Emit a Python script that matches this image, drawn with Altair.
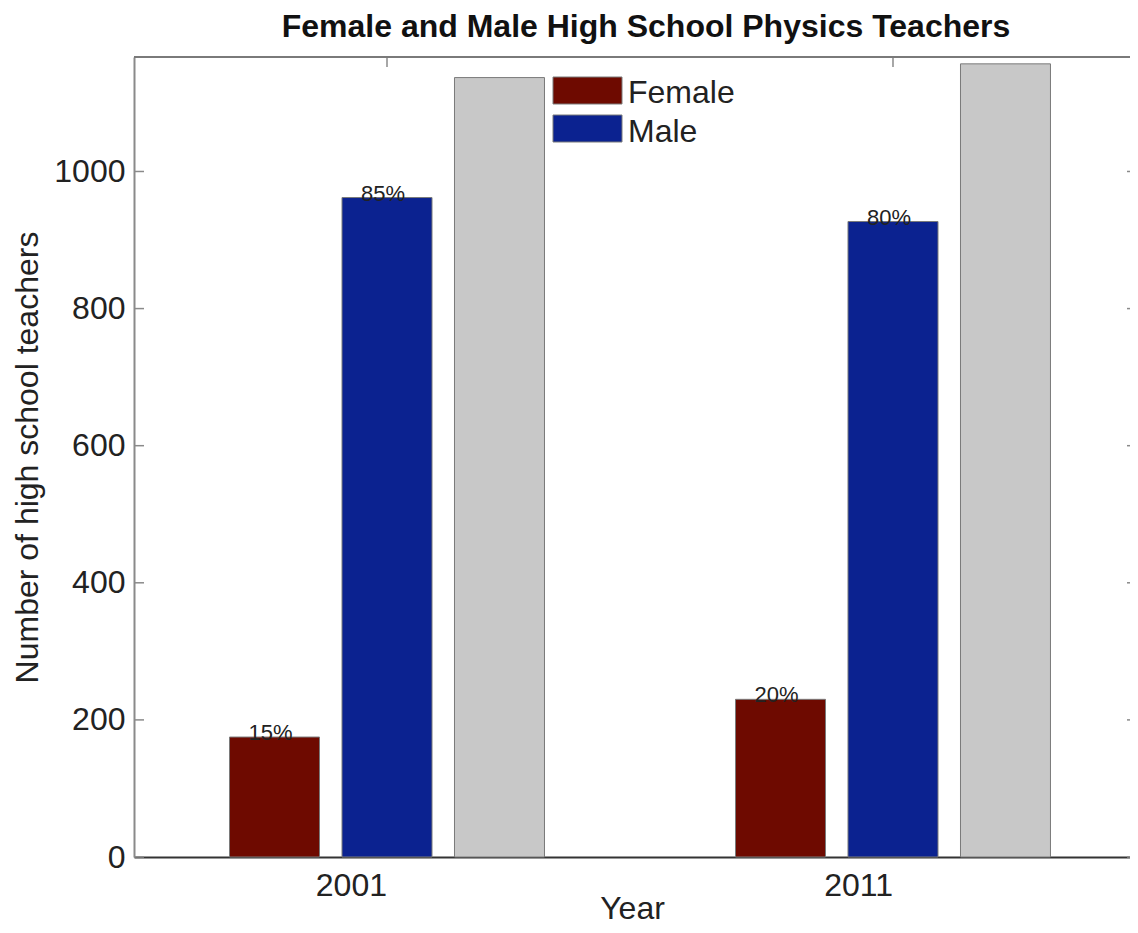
import altair as alt
import pandas as pd

# ---- data ----
years = ["2001", "2011"]
series = ["Female", "Male", "Total"]
female = [175, 230]
male = [962, 927]
total = [1137, 1157]
female_pct = ["15%", "20%"]
male_pct = ["85%", "80%"]
y_ticks = [0, 200, 400, 600, 800, 1000]
series_colors = ["#6e0a00", "#0b2290", "#c8c8c8"]
legend_labels = ["Female", "Male"]
legend_colors = ["#6e0a00", "#0b2290"]

rows = []
for i, yr in enumerate(years):
    rows.append({"year": yr, "series": "Female", "value": female[i], "pct": female_pct[i]})
    rows.append({"year": yr, "series": "Male", "value": male[i], "pct": male_pct[i]})
    rows.append({"year": yr, "series": "Total", "value": total[i], "pct": ""})
df = pd.DataFrame(rows)
ticks_df = pd.DataFrame({"value": y_ticks})
years_df = pd.DataFrame({"year": years})
one_df = pd.DataFrame({"k": [0]})

W = 996
H = 800
FONT = "Liberation Sans"

x_enc = alt.X(
    "year:N",
    sort=years,
    scale=alt.Scale(paddingInner=0.3775, paddingOuter=0.17296, align=0.5457),
    axis=alt.Axis(
        title="Year", labelAngle=0, labelBaseline="top", ticks=False, labelPadding=13,
        titlePadding=-8, domainColor="#333333", domainWidth=2,
    ),
)
xoff = alt.XOffset("series:N", sort=series, scale=alt.Scale(paddingInner=0.2, paddingOuter=0))
y_scale = alt.Scale(domain=[0, 1167], nice=False, zero=True)
y_enc = alt.Y(
    "value:Q",
    scale=y_scale,
    axis=alt.Axis(
        title="Number of high school teachers", values=y_ticks, format="d", ticks=False,
        grid=False, labelPadding=9, titlePadding=9, domainColor="#8a8a8a", domainWidth=2,
    ),
)

bars = alt.Chart(df).mark_bar(stroke="#7a7a7a", strokeWidth=1).encode(
    x=x_enc,
    xOffset=xoff,
    y=y_enc,
    color=alt.Color("series:N", scale=alt.Scale(domain=series, range=series_colors), legend=None),
)

labels = alt.Chart(df).transform_filter("datum.pct != ''").mark_text(
    baseline="alphabetic", dy=3, dx=-4, fontSize=22, color="#222222", font=FONT
).encode(
    x=alt.X("year:N", sort=years),
    xOffset=alt.XOffset("series:N", sort=series),
    y=alt.Y("value:Q"),
    text="pct:N",
)

left_ticks = alt.Chart(ticks_df).mark_rule(color="#8a8a8a", strokeWidth=1.5).encode(
    y=alt.Y("value:Q"), x=alt.value(0), x2=alt.value(10)
)
right_ticks = alt.Chart(ticks_df).mark_rule(color="#8a8a8a", strokeWidth=1.5).encode(
    y=alt.Y("value:Q"), x=alt.value(W - 3), x2=alt.value(W)
)
top_ticks = alt.Chart(years_df).mark_rule(color="#8a8a8a", strokeWidth=1.5).encode(
    x=alt.X("year:N", sort=years), y=alt.value(0), y2=alt.value(10)
)
top_line = alt.Chart(one_df).mark_rule(color="#7a7a7a", strokeWidth=2).encode(
    x=alt.value(0), x2=alt.value(W), y=alt.value(0)
)

legend_layers = []
for i, (lab, col) in enumerate(zip(legend_labels, legend_colors)):
    ldf = pd.DataFrame({"label": [lab]})
    legend_layers.append(
        alt.Chart(ldf).mark_rect(color=col, stroke="#7a7a7a", strokeWidth=1).encode(
            x=alt.value(419), x2=alt.value(488),
            y=alt.value(20 + 38 * i), y2=alt.value(47 + 38 * i),
        )
    )
    legend_layers.append(
        alt.Chart(ldf).mark_text(
            align="left", baseline="alphabetic", fontSize=32, font=FONT, color="#222222"
        ).encode(
            x=alt.value(494), y=alt.value(46 + 38.5 * i), text="label:N"
        )
    )

chart = alt.layer(
    left_ticks, right_ticks, top_ticks, bars, labels, top_line, *legend_layers
).properties(
    width=W,
    height=H,
    title=alt.Title(
        "Female and Male High School Physics Teachers",
        fontSize=32, fontWeight="bold", font=FONT, color="#111111", offset=12, dx=14,
    ),
    autosize=alt.AutoSizeParams(type="none"),
    padding={"left": 126, "top": 49, "right": 0, "bottom": 68},
).configure_view(
    stroke=None
).configure_axis(
    labelFont=FONT, titleFont=FONT, labelFontSize=32, titleFontSize=32,
    labelColor="#222222", titleColor="#222222", titleFontWeight="normal",
)

chart.save("out.html", embed_options={"renderer": "svg", "actions": False})
